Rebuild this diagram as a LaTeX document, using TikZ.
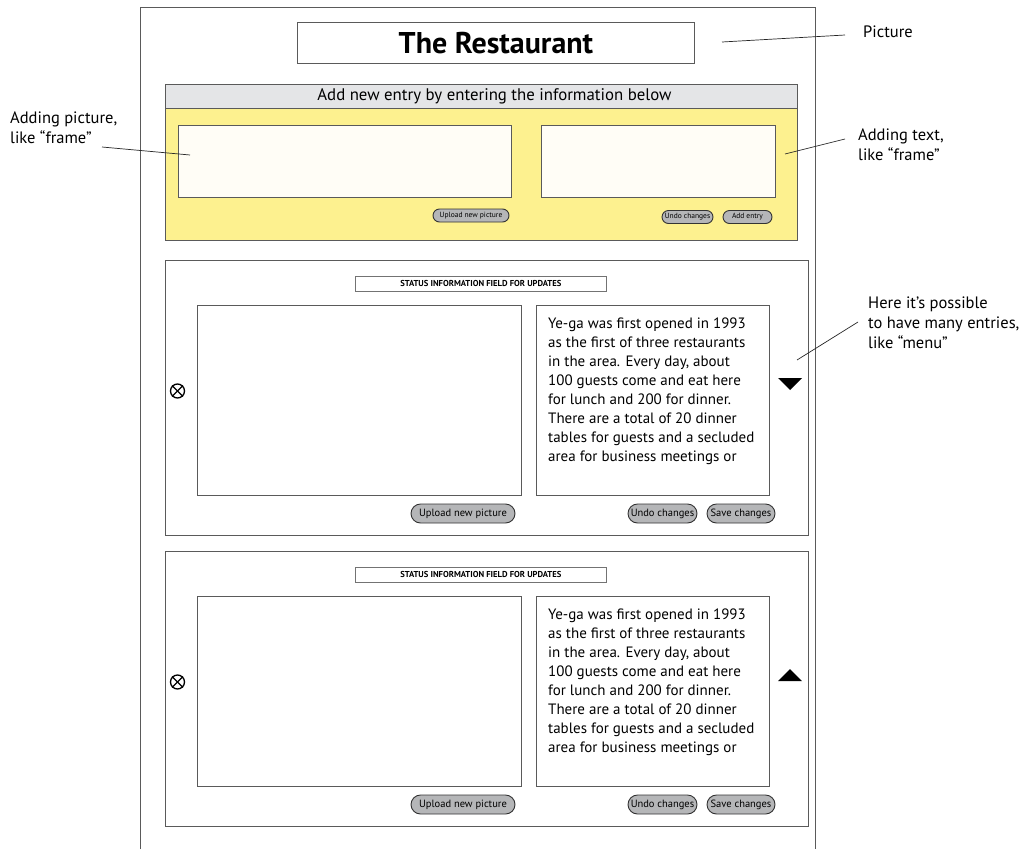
\documentclass[tikz,border=0pt]{standalone}
\usepackage{fontspec}
\setmainfont{PT Sans}
\usetikzlibrary{shapes.misc}
\definecolor{panelyellow}{HTML}{FDF18F}
\definecolor{headgray}{HTML}{E4E5E7}
\definecolor{paper}{HTML}{FFFDF6}
\definecolor{pillgray}{HTML}{B5B6B8}
\definecolor{edge}{HTML}{5A5A5A}
\tikzset{
  box/.style={draw=edge, line width=0.9pt, rectangle, inner sep=0pt, anchor=north west},
  pill/.style={draw=black!80, fill=pillgray, rounded rectangle, line width=0.9pt, inner sep=1pt},
  smallpill/.style={pill, font=\fontsize{7.5}{9}\selectfont, text height=5.6pt, text depth=1.7pt, minimum height=13pt},
  bigpill/.style={pill, font=\fontsize{10.5}{12}\selectfont, text height=7.8pt, text depth=2.3pt, minimum height=19pt},
  note/.style={align=left, font=\fontsize{16.5}{20}\selectfont, anchor=north west, inner sep=0pt},
  leader/.style={draw=black!85, line width=0.7pt},
  body/.style={align=left, font=\fontsize{15}{19}\selectfont, anchor=north west, inner sep=0pt}
}
\begin{document}
\begin{tikzpicture}[x=1pt,y=-1pt]
\useasboundingbox (0,0) rectangle (1031,849);
\fill[white] (0,0) rectangle (1031,849);

% page frame, open at the bottom
\draw[draw=edge, line width=0.9pt] (140,849) -- (140,7) -- (815,7) -- (815,849);

% title
\node[box, minimum width=397, minimum height=41, font=\bfseries\fontsize{30}{32}\selectfont] (title) at (297,22) {The Restaurant};

% new entry panel
\node[box, fill=panelyellow, minimum width=632, minimum height=156] (panel) at (165,84) {};
\node[box, fill=headgray, minimum width=632, minimum height=24, font=\fontsize{16.8}{18}\selectfont] (panelhead) at (165,84) {\hspace*{26pt}Add new entry by entering the information below};
\node[box, fill=paper, minimum width=333, minimum height=72] (newpic) at (178,125) {};
\node[box, fill=paper, minimum width=234, minimum height=72] (newtext) at (541,125) {};
\node[smallpill, minimum width=78] (newupload) at (471,215.5) {Upload new picture};
\node[smallpill, minimum width=53] (newundo) at (687.5,217) {Undo changes};
\node[smallpill, minimum width=51] (newadd) at (747.5,217) {Add entry};

% entries: the first scrolls down, the second scrolls up
\foreach \i/\dy/\tip in {1/0/1,2/291/-1}{
  \begin{scope}[yshift=-\dy pt]
    \node[box, minimum width=643, minimum height=275] (entry\i) at (165,260) {};
    \node[box, draw=black!55, line width=0.7pt, minimum width=251, minimum height=15,
          font=\bfseries\fontsize{8.6}{9}\selectfont] (status\i) at (355,276) {STATUS INFORMATION FIELD FOR UPDATES};
    \node[box, minimum width=324, minimum height=190] (pic\i) at (197,305) {};
    \node[box, minimum width=233, minimum height=190] (text\i) at (536,305) {};
    \node[body] (body\i) at (548,317.5)
      {Ye-ga was first opened in 1993\\as the first of three restaurants\\in the area. Every day, about\\100 guests come and eat here\\for lunch and 200 for dinner.\\There are a total of 20 dinner\\tables for guests and a secluded\\area for business meetings or};
    \node[circle, draw=black, line width=1.3pt, minimum size=14pt, inner sep=0pt] (del\i) at (177.5,391) {};
    \draw[line width=1.3pt] (del\i.north west) -- (del\i.south east);
    \draw[line width=1.3pt] (del\i.north east) -- (del\i.south west);
    \fill (778,384-6*\tip) -- (802,384-6*\tip) -- (790,384+6*\tip) -- cycle;
    \node[bigpill, minimum width=106] (upload\i) at (463,513.5) {Upload new picture};
    \node[bigpill, minimum width=71] (undo\i) at (662.5,513.5) {Undo changes};
    \node[bigpill, minimum width=70] (save\i) at (741,513.5) {Save changes};
  \end{scope}
}

% annotations
\node[note] (notePicture) at (863,26) {Picture};
\node[note] (noteAddPic) at (10,112) {Adding picture,\\like “frame”};
\node[note] (noteAddText) at (858,129) {Adding text,\\like “frame”};
\node[note] (noteMenu) at (868,297) {Here it’s possible\\to have many entries,\\like “menu”};

\coordinate (pPicture) at (722,42);
\coordinate (pAddPic) at (190,155);
\coordinate (pAddText) at (785,154);
\coordinate (pMenu) at (797,360);
\draw[leader] (845,35) -- (pPicture);
\draw[leader] (102,147) -- (pAddPic);
\draw[leader] (845,139) -- (pAddText);
\draw[leader] (858,322) -- (pMenu);
\end{tikzpicture}
\end{document}
